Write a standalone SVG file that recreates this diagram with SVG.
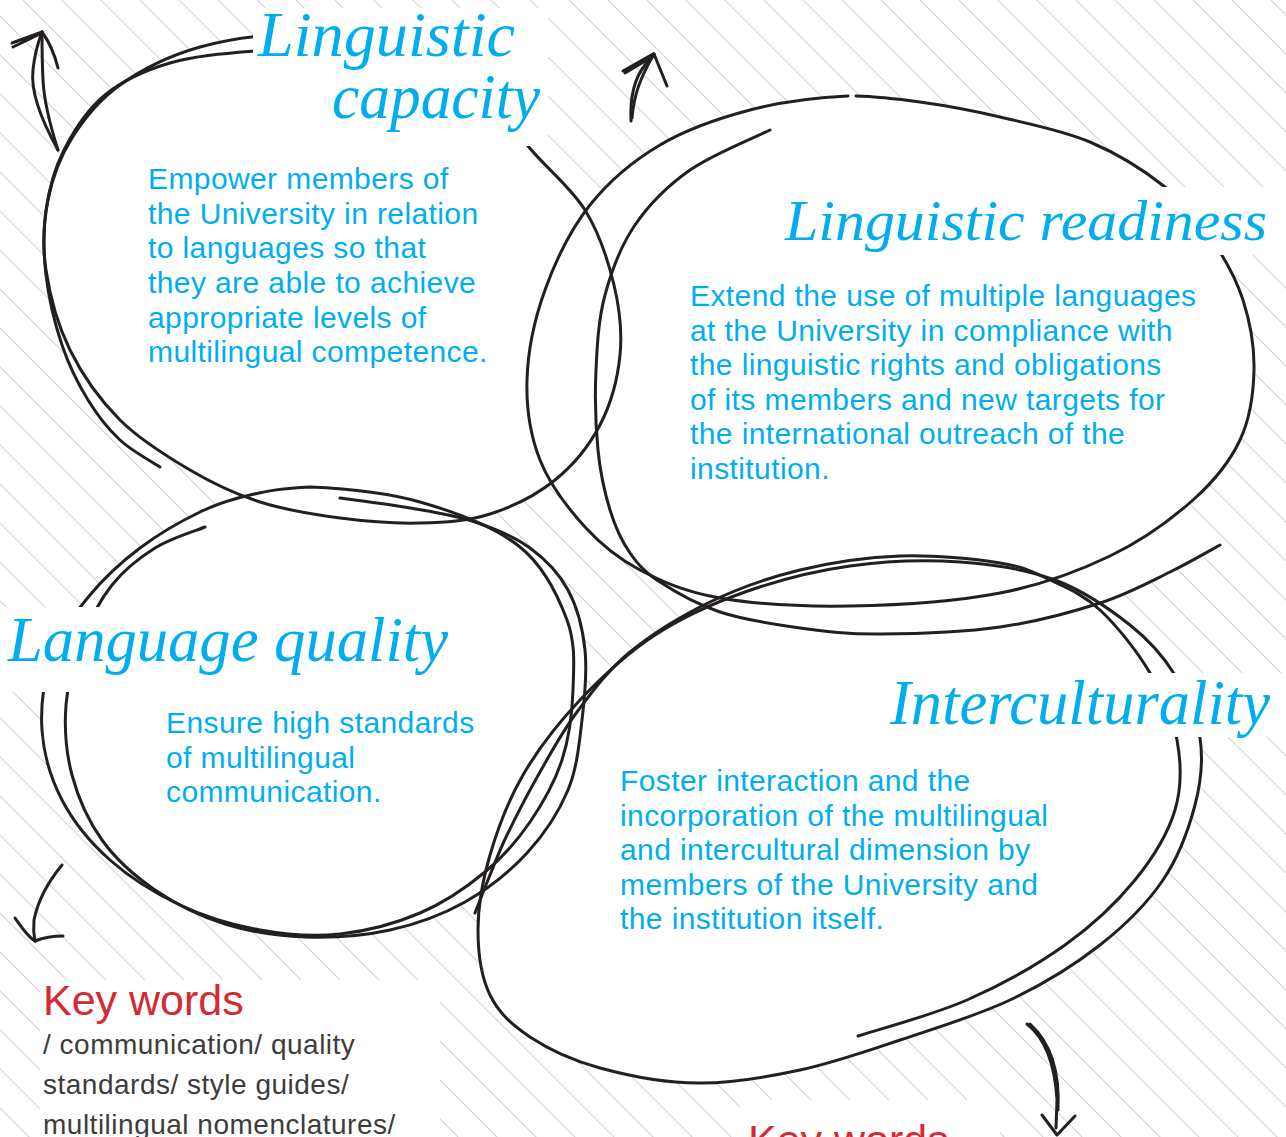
<svg xmlns="http://www.w3.org/2000/svg" width="1286" height="1137" viewBox="0 0 1286 1137">
<style>
.ln{fill:none;stroke:#231f20;stroke-width:3;stroke-linecap:round;stroke-linejoin:round}
.fill{fill:#fff;stroke:none}
.mask{fill:#fff}
.arrow{fill:none;stroke:#231f20;stroke-width:3;stroke-linecap:round;stroke-linejoin:round}
.title{font-family:"Liberation Serif","DejaVu Serif",serif;font-style:italic;font-size:64px;fill:#00aeef}
.body{font-family:"Liberation Sans",Arial,sans-serif;font-size:30px;fill:#00aeef;letter-spacing:0.4px}
.kw{font-family:"Liberation Sans",Arial,sans-serif;font-size:43px;fill:#d42a34}
.kwt{font-family:"Liberation Sans",Arial,sans-serif;font-size:28px;fill:#3c3c3b;letter-spacing:0.5px}
</style>
<defs>
<pattern id="hatch" patternUnits="userSpaceOnUse" x="23" y="0" width="39" height="39">
<path d="M0,0 L39,39 M-2,37 L2,41 M37,-2 L41,2" stroke="#d3d3d3" stroke-width="1.1" fill="none"/>
</pattern>
<path id="pA" d="M300,34 C335,33.7 379.2,36.5 410,45 C440.8,53.5 465.3,68.2 485,85 C504.7,101.8 511.3,125.2 528,146 C544.7,166.8 570.7,186.8 585,210 C599.3,233.2 608.2,260.8 614,285 C619.8,309.2 622.3,331.7 620,355 C617.7,378.3 610.8,404.2 600,425 C589.2,445.8 573.3,465.2 555,480 C536.7,494.8 512.5,506.8 490,514 C467.5,521.2 445,522.3 420,523 C395,523.7 366.7,521.5 340,518 C313.3,514.5 285,510 260,502 C235,494 213.3,483.7 190,470 C166.7,456.3 140,440 120,420 C100,400 82.3,375 70,350 C57.7,325 49.7,295 46,270 C42.3,245 43.7,222 48,200 C52.3,178 60,157.2 72,138 C84,118.8 98.7,100.2 120,85 C141.3,69.8 170,55.5 200,47 C230,38.5 265,34.3 300,34 Z"/>
<path id="pB" d="M160,467 C153.3,462.5 132,451.2 120,440 C108,428.8 97.7,415.8 88,400 C78.3,384.2 69,365.8 62,345 C55,324.2 48.7,297.5 46,275 C43.3,252.5 43,230.8 46,210 C49,189.2 54.2,169.2 64,150 C73.8,130.8 87.3,109.5 105,95 C122.7,80.5 145,70.3 170,63 C195,55.7 228.3,53.2 255,51 C281.7,48.8 305.8,49.2 330,50 C354.2,50.8 388.3,55 400,56"/>
<path id="pC" d="M310,487 C338.3,488.2 385,492 420,502 C455,512 495.5,527.3 520,547 C544.5,566.7 558.2,596.2 567,620 C575.8,643.8 573.8,666.7 573,690 C572.2,713.3 569.2,738 562,760 C554.8,782 542.8,803.3 530,822 C517.2,840.7 503.3,856.8 485,872 C466.7,887.2 444.2,902.7 420,913 C395.8,923.3 366.7,931.2 340,934 C313.3,936.8 286.7,934.8 260,930 C233.3,925.2 205,916.7 180,905 C155,893.3 129.7,877.5 110,860 C90.3,842.5 73.3,821.7 62,800 C50.7,778.3 43.7,754.2 42,730 C40.3,705.8 44,677.5 52,655 C60,632.5 75.3,612.8 90,595 C104.7,577.2 121.7,561.8 140,548 C158.3,534.2 181.7,520.8 200,512 C218.3,503.2 231.7,499.2 250,495 C268.3,490.8 281.7,488.2 310,487 Z"/>
<path id="pD" d="M205,527 C196.7,530.5 170.5,538.3 155,548 C139.5,557.7 124.2,569.7 112,585 C99.8,600.3 89.7,620 82,640 C74.3,660 67.7,682.5 66,705 C64.3,727.5 66,752.5 72,775 C78,797.5 88.2,820.8 102,840 C115.8,859.2 134.5,876 155,890 C175.5,904 200,916.2 225,924 C250,931.8 277.5,936 305,937 C332.5,938 363.3,935.8 390,930 C416.7,924.2 442.2,914.8 465,902 C487.8,889.2 509.8,871.7 527,853 C544.2,834.3 558.8,812.2 568,790 C577.2,767.8 579.2,743.3 582,720 C584.8,696.7 587.3,671.7 585,650 C582.7,628.3 577.2,607 568,590 C558.8,573 545.5,559.3 530,548 C514.5,536.7 495,528.7 475,522 C455,515.3 432.5,512 410,508 C387.5,504 351.7,499.7 340,498"/>
<path id="pG" d="M848,96 C819.7,97.3 781.3,101.8 750,110 C718.7,118.2 686.7,129.2 660,145 C633.3,160.8 609.2,180.8 590,205 C570.8,229.2 555.5,260.8 545,290 C534.5,319.2 527.8,351.7 527,380 C526.2,408.3 530.3,435.5 540,460 C549.7,484.5 568.3,508.7 585,527 C601.7,545.3 617.5,558.2 640,570 C662.5,581.8 685,592 720,598 C755,604 803.3,606.8 850,606 C896.7,605.2 956.7,601.3 1000,593 C1043.3,584.7 1077.8,571.5 1110,556 C1142.2,540.5 1171.3,519.3 1193,500 C1214.7,480.7 1229.8,461.7 1240,440 C1250.2,418.3 1253.5,393.3 1254,370 C1254.5,346.7 1250,321.7 1243,300 C1236,278.3 1225,258.8 1212,240 C1199,221.2 1185.3,203.3 1165,187 C1144.7,170.7 1117.5,153.7 1090,142 C1062.5,130.3 1028.3,123.7 1000,117 C971.7,110.3 945.3,105.5 920,102 C894.7,98.5 876.3,96.5 856,96"/>
<path id="pH" d="M770,130 C756.7,136.7 712.5,154.2 690,170 C667.5,185.8 649.2,204.2 635,225 C620.8,245.8 611.5,270.8 605,295 C598.5,319.2 597.2,344.2 596,370 C594.8,395.8 595.7,426.7 598,450 C600.3,473.3 604.7,492.8 610,510 C615.3,527.2 621.7,541 630,553 C638.3,565 645,572.2 660,582 C675,591.8 696.7,604.3 720,612 C743.3,619.7 773.3,624.3 800,628 C826.7,631.7 846.7,634.2 880,634 C913.3,633.8 963.3,632.2 1000,627 C1036.7,621.8 1071.7,612.2 1100,603 C1128.3,593.8 1150,581.7 1170,572 C1190,562.3 1211.7,549.5 1220,545"/>
<path id="pE" d="M700,1083 C733.3,1083.3 766.7,1077.2 800,1070 C833.3,1062.8 865,1051.7 900,1040 C935,1028.3 976.7,1015.8 1010,1000 C1043.3,984.2 1074.5,965 1100,945 C1125.5,925 1147.2,903.3 1163,880 C1178.8,856.7 1188.8,828.7 1195,805 C1201.2,781.3 1203.3,759.7 1200,738 C1196.7,716.3 1186.7,693.8 1175,675 C1163.3,656.2 1150,640.8 1130,625 C1110,609.2 1083.3,590.5 1055,580 C1026.7,569.5 994.2,564.3 960,562 C925.8,559.7 885.8,561 850,566 C814.2,571 777.5,580.5 745,592 C712.5,603.5 682.5,617 655,635 C627.5,653 602,676.7 580,700 C558,723.3 538,749.2 523,775 C508,800.8 497.5,829.2 490,855 C482.5,880.8 478,906.7 478,930 C478,953.3 481.3,977.2 490,995 C498.7,1012.8 511.7,1024.8 530,1037 C548.3,1049.2 571.7,1060.3 600,1068 C628.3,1075.7 666.7,1083.3 700,1083 Z"/>
<path id="pF" d="M858,1036 C876.2,1030 932.5,1015.2 967,1000 C1001.5,984.8 1037,965 1065,945 C1093,925 1116.7,902.5 1135,880 C1153.3,857.5 1168,833.3 1175,810 C1182,786.7 1181.2,762.8 1177,740 C1172.8,717.2 1162.8,694.7 1150,673 C1137.2,651.3 1116.7,625.5 1100,610 C1083.3,594.5 1066.7,587.8 1050,580 C1033.3,572.2 1025,567 1000,563 C975,559 933.3,554.8 900,556 C866.7,557.2 831.7,562.3 800,570 C768.3,577.7 738.3,588.3 710,602 C681.7,615.7 652.2,633.7 630,652 C607.8,670.3 592,692 577,712 C562,732 551.7,751.5 540,772 C528.3,792.5 515.7,817 507,835 C498.3,853 493.3,867 488,880 C482.7,893 477.2,907.5 475,913"/>
</defs>

<g id="background">
<rect x="0" y="0" width="1286" height="1137" fill="#fff"/>
<rect x="0" y="0" width="1286" height="1137" fill="url(#hatch)"/>
<rect class="mask" x="40" y="980" width="400" height="157"/>
<rect class="mask" x="740" y="1100" width="260" height="37"/>
</g>

<g id="node-fills">
<use href="#pA" class="fill"/>
<use href="#pB" class="fill"/>
<use href="#pC" class="fill"/>
<use href="#pD" class="fill"/>
<use href="#pG" class="fill"/>
<use href="#pH" class="fill"/>
<use href="#pE" class="fill"/>
<use href="#pF" class="fill"/>
</g>

<g id="connectors">
<path class="arrow" d="M58,150 C44,125 30,95 33,70 C35,50 39,40 42,32"/>
<path class="arrow" d="M58,150 C50,125 44,100 43,80 C42,60 42,45 42,32"/>
<path class="arrow" d="M12,43 L42,32 M13,47 L42,33"/>
<path class="arrow" d="M42,32 C48,40 54,52 58,68"/>
<path class="arrow" d="M631,121 C630,100 633,80 645,65 L654,54"/>
<path class="arrow" d="M632,118 C634,95 640,78 654,54"/>
<path class="arrow" d="M623,71 L653,54 M625,73 L652,57"/>
<path class="arrow" d="M654,54 L667,86"/>
<path class="arrow" d="M62,865 C48,882 38,900 34,920 C33,930 34,936 35,941"/>
<path class="arrow" d="M15,918 C22,928 28,937 35,941"/>
<path class="arrow" d="M35,941 C45,937 54,936 63,936"/>
<path class="arrow" d="M1027,1024 C1045,1038 1055,1065 1057,1100 L1056,1128"/>
<path class="arrow" d="M1030,1024 C1050,1042 1060,1070 1058,1110"/>
<path class="arrow" d="M1042,1115 L1057,1135 M1057,1135 L1075,1116"/>
</g>

<g id="node-linguistic-capacity">
<use href="#pA" class="ln"/>
<use href="#pB" class="ln"/>
<rect class="mask" x="253" y="8" width="295" height="138"/>
<text class="title" x="258" y="56" textLength="257" lengthAdjust="spacingAndGlyphs">Linguistic</text>
<text class="title" x="332" y="118" textLength="208" lengthAdjust="spacingAndGlyphs">capacity</text>
<text class="body"><tspan x="148" y="189">Empower members of</tspan><tspan x="148" y="224">the University in relation</tspan><tspan x="148" y="258">to languages so that</tspan><tspan x="148" y="293">they are able to achieve</tspan><tspan x="148" y="328">appropriate levels of</tspan><tspan x="148" y="362">multilingual competence.</tspan></text>
</g>

<g id="node-linguistic-readiness">
<use href="#pG" class="ln"/>
<use href="#pH" class="ln"/>
<rect class="mask" x="780" y="187" width="506" height="68"/>
<text class="title" x="785" y="240" style="font-size:58px" textLength="482" lengthAdjust="spacingAndGlyphs">Linguistic readiness</text>
<text class="body"><tspan x="690" y="306">Extend the use of multiple languages</tspan><tspan x="690" y="341">at the University in compliance with</tspan><tspan x="690" y="375">the linguistic rights and obligations</tspan><tspan x="690" y="410">of its members and new targets for</tspan><tspan x="690" y="444">the international outreach of the</tspan><tspan x="690" y="479">institution.</tspan></text>
</g>

<g id="node-language-quality">
<use href="#pC" class="ln"/>
<use href="#pD" class="ln"/>
<rect class="mask" x="0" y="607" width="452" height="85"/>
<text class="title" x="8" y="661" textLength="440" lengthAdjust="spacingAndGlyphs">Language quality</text>
<text class="body"><tspan x="166" y="733">Ensure high standards</tspan><tspan x="166" y="768">of multilingual</tspan><tspan x="166" y="802">communication.</tspan></text>
</g>

<g id="node-interculturality">
<use href="#pE" class="ln"/>
<use href="#pF" class="ln"/>
<rect class="mask" x="885" y="673" width="401" height="64"/>
<text class="title" x="890" y="724" textLength="380" lengthAdjust="spacingAndGlyphs">Interculturality</text>
<text class="body"><tspan x="620" y="791">Foster interaction and the</tspan><tspan x="620" y="826">incorporation of the multilingual</tspan><tspan x="620" y="860">and intercultural dimension by</tspan><tspan x="620" y="895">members of the University and</tspan><tspan x="620" y="929">the institution itself.</tspan></text>
</g>

<g id="keywords-left">
<text class="kw" x="43" y="1015">Key words</text>
<text class="kwt"><tspan x="43" y="1054">/ communication/ quality</tspan><tspan x="43" y="1094">standards/ style guides/</tspan><tspan x="43" y="1134">multilingual nomenclatures/</tspan></text>
</g>

<g id="keywords-right">
<text class="kw" x="748" y="1155">Key words</text>
</g>
</svg>
